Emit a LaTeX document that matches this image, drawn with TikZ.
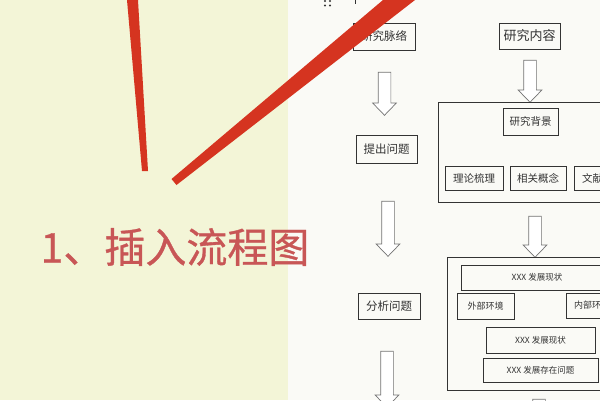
\documentclass[tikz,border=0pt]{standalone}
\usepackage{fontspec}
\setmainfont{Noto Sans CJK SC}
\newfontfamily\captionfont[FakeBold=0.8]{Noto Sans CJK SC}
\usetikzlibrary{shapes.arrows}
\definecolor{wall}{RGB}{243,245,215}
\definecolor{sheet}{RGB}{250,250,246}
\definecolor{marker}{RGB}{213,52,32}
\definecolor{titlered}{RGB}{200,86,86}
\definecolor{ink}{RGB}{51,51,51}
\tikzset{
  box/.style={draw=ink, line width=0.9pt, inner sep=0pt, text=ink},
  frame/.style={draw=ink, line width=0.9pt, inner sep=0pt},
  hollow/.style={single arrow, draw=black!55, line width=0.7pt, fill=white, rotate=-90,
    inner xsep=0pt, inner ysep=6pt, single arrow head extend=5.5pt, single arrow tip angle=88},
}
\def\fs#1{\fontsize{#1}{#1}\selectfont}

\begin{document}
\begin{tikzpicture}[x=1pt,y=-1pt]
			%%%%% START %%%%%
			\useasboundingbox (0,0) rectangle (600,400);
			\clip (0,0) rectangle (600,400);
			
			\fill[wall] (0,0) rectangle (288,400);
			\fill[sheet] (288,0) rectangle (600,400);
			
			% cut-off marks at the top of the sheet
			\fill[ink] (325,1) circle (1.1);
			\fill[ink] (330,1) circle (1.1);
			\fill[ink] (325,5.5) circle (1.1);
			\fill[ink] (330,5.5) circle (1.1);
			\fill[ink] (354.5,0) rectangle (356,4);
			
			% left column
			\node[box, font=\fs{11.5}, minimum width=62pt, minimum height=27pt] (ctx) at (384,36.5) {研究脉络};
			\node[hollow, minimum height=43pt] (arrL1) at (384.5,90.5) {};
			\node[box, font=\fs{11.5}, minimum width=61pt, minimum height=28pt] (ques) at (386.5,149) {提出问题};
			\node[hollow, minimum height=55pt] (arrL2) at (388,225.5) {};
			\node[box, font=\fs{11.5}, minimum width=62pt, minimum height=26pt] (anal) at (389,306) {分析问题};
			\node[hollow, minimum height=56pt] (arrL3) at (387,376) {};
			
			% right column
			\node[box, font=\fs{13}, minimum width=61pt, minimum height=26pt] (cont) at (529.5,36) {研究内容};
			\node[hollow, minimum height=42pt] (arrR1) at (530,78) {};
			
			\node[frame, minimum width=187pt, minimum height=100pt] (bgframe) at (531.5,152) {};
			\node[box, font=\fs{10.5}, minimum width=55pt, minimum height=27pt] (bg) at (530.5,121.5) {研究背景};
			\node[box, font=\fs{10.5}, minimum width=58pt, minimum height=24pt] (theo) at (474,178) {理论梳理};
			\node[box, font=\fs{10.5}, minimum width=56pt, minimum height=24pt] (conc) at (538,178) {相关概念};
			\node[box, font=\fs{10.5}, minimum width=58pt, minimum height=24pt] (lit) at (603,178) {文献综述};
			
			\node[hollow, minimum height=41pt] (arrR2) at (535,233.5) {};
			
			\node[frame, minimum width=186pt, minimum height=133pt] (stframe) at (540,323.5) {};
			\node[box, font=\fs{8.5}, minimum width=152pt, minimum height=25pt] (st1) at (537,277.5) {XXX 发展现状};
			\node[box, font=\fs{9}, minimum width=57pt, minimum height=26pt] (ext) at (485.5,306) {外部环境};
			\node[box, font=\fs{9}, minimum width=52pt, minimum height=25pt] (int) at (592,305.5) {内部环境};
			\node[box, font=\fs{8.5}, minimum width=109pt, minimum height=26pt] (st2) at (540.5,340) {XXX 发展现状};
			\node[box, font=\fs{8.5}, minimum width=115pt, minimum height=24pt] (prob) at (540.5,370) {XXX 发展存在问题};
			
			\node[hollow, minimum height=42pt] (arrR3) at (539,417) {};
			
			% marker strokes and caption
			\fill[marker] (127,0) -- (138,0) -- (148,171) -- (142,171) -- cycle;
			\fill[marker] (171.5,179) -- (176.5,185) -- (415,0) -- (383,0) -- cycle;
			
			\node[text=titlered, font=\captionfont\fs{41}] (caption) at (175,247) {1、插入流程图};
			%%%%% END %%%%%
\end{tikzpicture}
\end{document}
